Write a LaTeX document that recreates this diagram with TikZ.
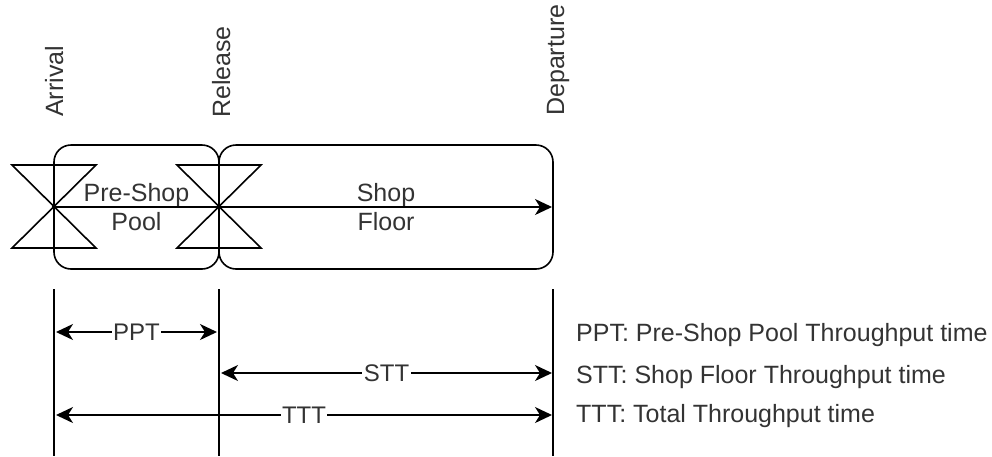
\documentclass[tikz,border=0pt]{standalone}
\usepackage{fontspec}
\setmainfont{Liberation Sans}
\usetikzlibrary{arrows.meta}
\begin{document}
\begin{tikzpicture}[x=1pt,y=-1pt,
  txt/.style={font=\fontsize{25}{29}\selectfont, text=black!80, inner sep=0pt},
  smalltxt/.style={font=\fontsize{24}{28}\selectfont, text=black!80, inner sep=0pt},
  stage/.style={draw, line width=1.6pt, rounded corners=17pt, inner sep=0pt, align=center, txt},
  bow/.style={line width=1.6pt, line join=miter},
  mk/.tip={Stealth[length=17pt,width=16pt,inset=5pt]},
  flow/.style={line width=1.6pt, -mk},
  dim/.style={line width=1.6pt, mk-mk},
  lab/.style={smalltxt, fill=white, inner sep=1.5pt},
  vlab/.style={txt, rotate=90, anchor=base west},
  leg/.style={txt, anchor=base west},
  guide/.style={line width=1.6pt}]
\useasboundingbox (0,0) rectangle (992,456);

% stages
\node[stage, minimum width=165, minimum height=124] (psp) at (136.5,207) {Pre-Shop\\Pool};
\node[stage, minimum width=334, minimum height=124] (sf) at (386,207) {Shop\\Floor};

% vertical labels
\node[vlab] (arr) at (63,117) {Arrival};
\node[vlab] (rel) at (230,118) {Release};
\node[vlab] (dep) at (564,116) {Departure};

% bowties
\draw[bow] (12,165) -- (96,165) -- (12,248) -- (96,248) -- cycle;
\draw[bow] (177,165) -- (261,165) -- (177,248) -- (261,248) -- cycle;

% main flow
\coordinate (A) at (54,207);
\coordinate (R) at (219,207);
\coordinate (D) at (552,207);
\draw[flow] (A) -- (D);
\fill (A) circle (2.2);
\fill (R) circle (2.2);

% guide lines
\coordinate (at) at (54,289);  \coordinate (ab) at (54,456);
\coordinate (rt) at (219,289); \coordinate (rb) at (219,456);
\coordinate (dt) at (553,289); \coordinate (db) at (553,456);
\draw[guide] (at) -- (ab);
\draw[guide] (rt) -- (rb);
\draw[guide] (dt) -- (db);

% dimension arrows
\coordinate (p1) at (56,332);  \coordinate (p2) at (217,332);
\coordinate (s1) at (221,373); \coordinate (s2) at (552,373);
\coordinate (t1) at (56,415);  \coordinate (t2) at (552,415);
\draw[dim] (p1) -- node[lab] (ppt) {PPT} (p2);
\draw[dim] (s1) -- node[lab] (stt) {STT} (s2);
\draw[dim] (t1) -- node[lab] (ttt) {TTT} (t2);

% legend
\node[leg] (l1) at (576,341) {PPT: Pre-Shop Pool Throughput time};
\node[leg] (l2) at (576,383) {STT: Shop Floor Throughput time};
\node[leg] (l3) at (576,422) {TTT: Total Throughput time};
\end{tikzpicture}
\end{document}
